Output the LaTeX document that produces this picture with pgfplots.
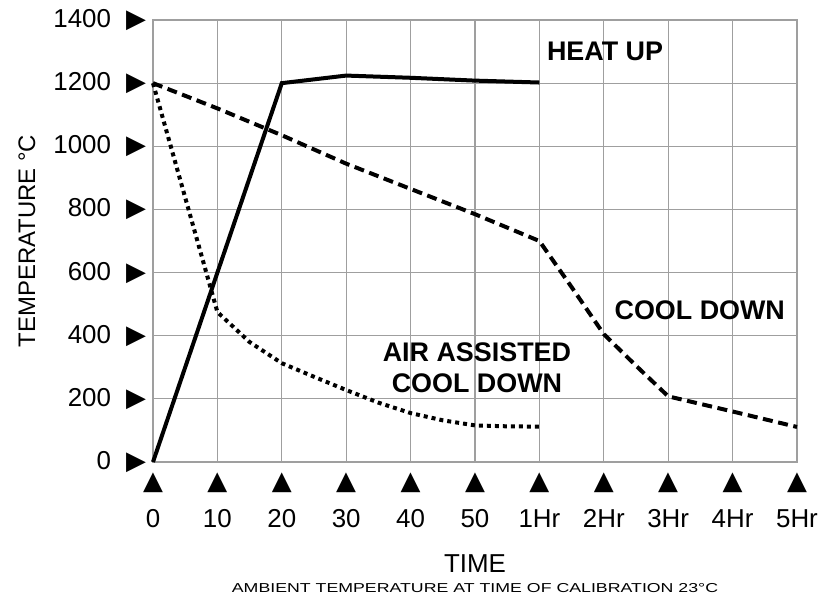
\documentclass[border=0pt]{standalone}
\usepackage{pgfplots}
\pgfplotsset{compat=1.18}
\usepackage{fontspec}
\setmainfont{Liberation Sans}
\newfontfamily\sym{DejaVu Sans}
\newcommand{\xt}[1]{{\sym\char"25B2}\\[5bp]#1}

\begin{document}
\begin{tikzpicture}
\begin{axis}[
    scale only axis, width=322bp, height=221bp,
    xmin=0, xmax=10, ymin=0, ymax=1400,
    xtick={0,1,...,10}, ytick={0,200,...,1400},
    xticklabels={\xt{0},\xt{10},\xt{20},\xt{30},\xt{40},\xt{50},\xt{1Hr},\xt{2Hr},\xt{3Hr},\xt{4Hr},\xt{5Hr}},
    xticklabel style={align=center, font=\fontsize{13}{14}\selectfont, yshift=-2bp},
    yticklabel={\pgfmathprintnumber{\tick}\hspace{7.5bp}{\sym\fontsize{13}{14}\selectfont\char"25B6}},
    yticklabel style={font=\fontsize{13}{14}\selectfont, xshift=0bp},
    /pgf/number format/assume math mode=true,
    /pgf/number format/1000 sep={},
    major tick length=0pt,
    grid=major,
    major grid style={gray!75, line width=0.6bp},
    axis line style={gray!75, line width=0.6bp},
    xlabel={{\fontsize{13}{15}\selectfont TIME}\\[-2bp]{\fontsize{6.5}{7}\selectfont\scalebox{1.37}[1]{AMBIENT TEMPERATURE AT TIME OF CALIBRATION 23°C}}},
    xlabel style={align=center, yshift=-6.5bp},
    clip=false,
]
% heat up
\addplot[black, line width=2bp] coordinates {
    (0,0) (2,1200) (3,1224) (4,1217) (5,1208) (6,1202)
};
% cool down
\addplot[black, line width=2bp, dash pattern=on 5bp off 2.8bp] coordinates {
    (0,1200) (1,1120) (2,1035) (3,945) (4,865) (5,785) (6,700)
    (6.5,554) (7,405) (7.5,305) (8,208) (9,160) (10,111)
};
% air assisted cool down
\addplot[black, line width=2bp, dash pattern=on 2bp off 2bp] coordinates {
    (0,1200) (1,475) (1.5,380) (2,313) (2.5,270) (3,228) (3.5,188) (4,155)
    (4.5,132) (5,116) (5.5,113) (6,112)
};
\node[rotate=90, font=\fontsize{12}{13}\selectfont] at ([xshift=-63bp]axis description cs:0,0.5) {TEMPERATURE °C};
\node[font=\bfseries\fontsize{13.5}{14}\selectfont] at (axis cs:7.02,1300) {HEAT UP};
\node[font=\bfseries\fontsize{13.5}{14}\selectfont] at (axis cs:8.49,481) {COOL DOWN};
\node[font=\bfseries\fontsize{13.5}{15.5}\selectfont, align=center] at (axis cs:5.03,298) {AIR ASSISTED\\COOL DOWN};
% margins of the page
\path ([xshift=-76.5bp]axis description cs:0,0.5) ([xshift=14.5bp]axis description cs:1,0.5)
      ([yshift=10bp]axis description cs:0.5,1);
\end{axis}
\end{tikzpicture}
\end{document}
